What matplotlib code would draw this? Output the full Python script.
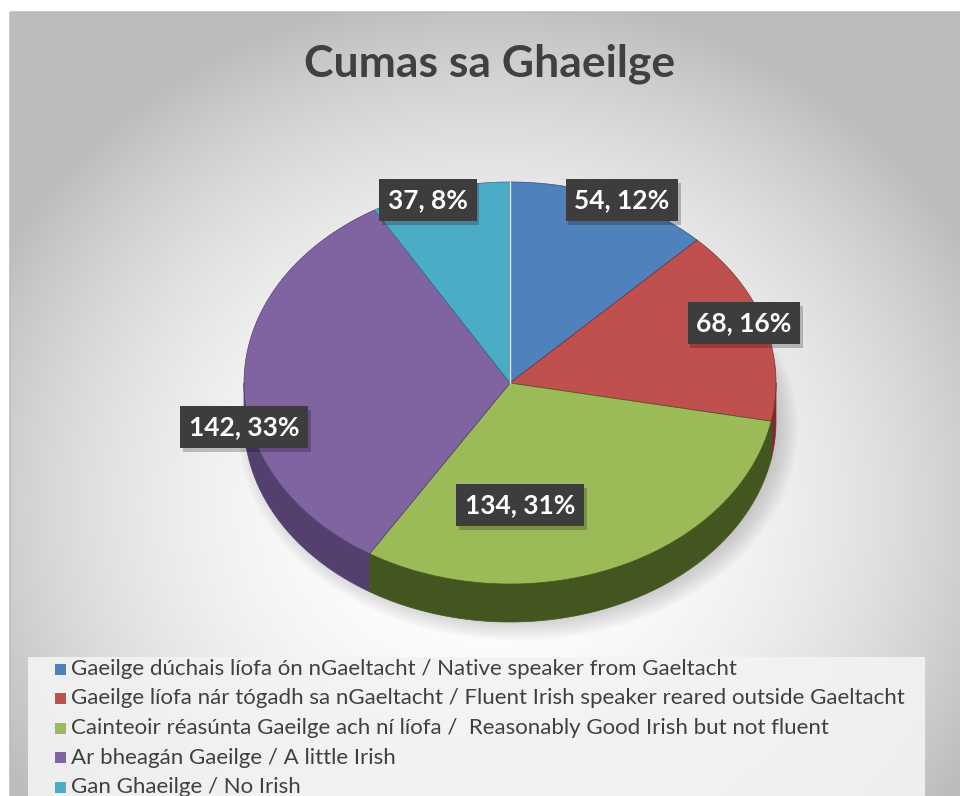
import numpy as np
import matplotlib.pyplot as plt
import matplotlib.patheffects as pe
from matplotlib.patches import Polygon, Rectangle, Ellipse

# data
title = "Cumas sa Ghaeilge"
categories = [
    "Gaeilge dúchais líofa ón nGaeltacht / Native speaker from Gaeltacht",
    "Gaeilge líofa nár tógadh sa nGaeltacht / Fluent Irish speaker reared outside Gaeltacht",
    "Cainteoir réasúnta Gaeilge ach ní líofa /  Reasonably Good Irish but not fluent",
    "Ar bheagán Gaeilge / A little Irish",
    "Gan Ghaeilge / No Irish",
]
counts = [54, 68, 134, 142, 37]
percent_labels = ["12%", "16%", "31%", "33%", "8%"]
colors = ["#4f81bd", "#c0504d", "#9bbb59", "#8064a2", "#4bacc6"]
side_colors = ["#2f4f7a", "#7a2e2c", "#435620", "#54406f", "#2d7185"]

# layout (pixel space of the 960x796 picture)
W, H = 960, 796
cx, cy, rx, ry, depth = 510, 383, 266, 201, 38
label_xy = [(622, 200), (744, 323), (520, 505), (244, 427), (428, 200)]

plt.rcParams['font.family'] = ['Lato', 'DejaVu Sans']
fig = plt.figure(figsize=(W / 100, H / 100), dpi=100)
ax = fig.add_axes([0, 0, 1, 1])
ax.set_xlim(0, W)
ax.set_ylim(H, 0)
ax.axis('off')

# background: grey radial gradient inside the chart area
yy, xx = np.mgrid[0:H, 0:W]
r = np.hypot((xx - 480) / 560.0, (yy - 500) / 520.0)
g = 1.0 - 0.26 * np.clip(r, 0, 1.4) ** 2.2
g = np.clip(g, 0.74, 1.0)
ax.imshow(np.dstack([g, g, g]), extent=(10, W + 2, H + 2, 12), zorder=0,
          interpolation='bilinear')
ax.add_patch(Rectangle((10, 12), W, H, fill=False, ec='#bdbdbd', lw=1.2, zorder=1))

# title
ax.text(490, 64, title, ha='center', va='center', fontsize=32, fontweight='bold',
        color='#404040', zorder=5)

# soft shadow under the pie
for k in range(12):
    ax.add_patch(Ellipse((cx + 8, cy + depth + 8), 2 * (rx + 14 - k * 2), 2 * (ry + 10 - k * 2),
                         fc='#808080', ec='none', alpha=0.035, zorder=2))


def pt(theta, dy=0.0):
    return cx + rx * np.sin(theta), cy - ry * np.cos(theta) + dy


# pie angles: clockwise from 12 o'clock
total = float(sum(counts))
bounds = np.concatenate([[0], np.cumsum(counts)]) / total * 2 * np.pi

# side faces (front half only)
for i in range(len(counts)):
    a0, a1 = max(bounds[i], np.pi / 2), min(bounds[i + 1], 3 * np.pi / 2)
    if a1 <= a0:
        continue
    th = np.linspace(a0, a1, 80)
    top = [pt(t) for t in th]
    bot = [pt(t, depth) for t in th[::-1]]
    ax.add_patch(Polygon(top + bot, closed=True, fc=side_colors[i], ec=side_colors[i],
                         lw=0.5, zorder=3))

# top faces
for i in range(len(counts)):
    th = np.linspace(bounds[i], bounds[i + 1], 120)
    verts = [(cx, cy)] + [pt(t) for t in th]
    ax.add_patch(Polygon(verts, closed=True, fc=colors[i], ec=side_colors[i], lw=0.5,
                         zorder=4))
# light seam at 12 o'clock
ax.plot([cx, cx], [cy, cy - ry], color='#d8e4f0', lw=1, zorder=4.5)

# data labels
for i in range(len(counts)):
    x, y = label_xy[i]
    t = ax.text(x, y, f"{counts[i]}, {percent_labels[i]}", ha='center', va='center',
                fontsize=19, fontweight='bold', color='white', zorder=6,
                bbox=dict(boxstyle='square,pad=0.33', fc='#3d3d3d', ec='none'))
    t.get_bbox_patch().set_path_effects([
        pe.SimplePatchShadow(offset=(2, -3), shadow_rgbFace='#000000', alpha=0.22),
        pe.Normal()])

# legend
ax.add_patch(Rectangle((28, 657), 897, 160, fc='#f3f3f3', ec='none', alpha=0.9, zorder=2))
row_y = 669
for i, name in enumerate(categories):
    yrow = row_y + i * 29.5
    ax.add_patch(Rectangle((55, yrow - 5.5), 11, 11, fc=colors[i], ec='none', zorder=5))
    ax.text(71, yrow, name, ha='left', va='center', fontsize=16, color='#404040',
            zorder=5)

fig.savefig('out.png', dpi=100, facecolor='white')
